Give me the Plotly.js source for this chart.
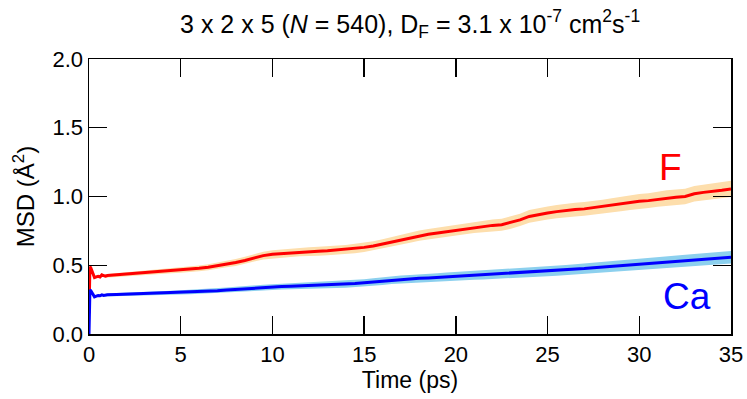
<!DOCTYPE html>
<html>
<head>
<meta charset="utf-8">
<script src="https://cdn.plot.ly/plotly-3.0.1.min.js"></script>
<style>
  html, body { margin: 0; padding: 0; background: #fff; }
  #msd { width: 747px; height: 399px; }
</style>
</head>
<body>
<div id="msd"></div>
<script>
var time = [0, 0.05, 0.1, 0.2, 0.3, 0.4, 0.5, 0.6, 0.7, 0.8, 0.9, 1.0,
  1.5, 2, 2.5, 3, 3.5, 4, 4.5, 5,
  5.5, 6, 6.5, 7, 7.5, 8, 8.5, 9, 9.5, 10,
  10.5, 11, 11.5, 12, 12.5, 13, 13.5, 14, 14.5, 15,
  15.5, 16, 16.5, 17, 17.5, 18, 18.5, 19, 19.5, 20,
  20.5, 21, 21.5, 22, 22.5, 23, 23.5, 24, 24.5, 25,
  25.5, 26, 26.5, 27, 27.5, 28, 28.5, 29, 29.5, 30,
  30.5, 31, 31.5, 32, 32.5, 33, 33.5, 34, 34.5, 35];

var msdF = [0.15, 0.49, 0.48, 0.44, 0.41, 0.415, 0.42, 0.415, 0.43, 0.425, 0.42, 0.425,
  0.43, 0.435, 0.44, 0.445, 0.448, 0.455, 0.46, 0.465,
  0.47, 0.478, 0.485, 0.495, 0.51, 0.52, 0.535, 0.555, 0.57, 0.58,
  0.585, 0.59, 0.597, 0.6, 0.602, 0.605, 0.61, 0.615, 0.622, 0.63,
  0.64, 0.655, 0.67, 0.685, 0.7, 0.715, 0.725, 0.735, 0.745, 0.755,
  0.765, 0.775, 0.785, 0.79, 0.795, 0.81, 0.83, 0.855, 0.87, 0.88,
  0.89, 0.9, 0.905, 0.91, 0.92, 0.925, 0.935, 0.945, 0.955, 0.965,
  0.97, 0.98, 0.99, 0.995, 1.0, 1.02, 1.03, 1.035, 1.045, 1.055];

var msdCa = [0.0, 0.32, 0.315, 0.29, 0.27, 0.275, 0.28, 0.278, 0.285, 0.28, 0.282, 0.285,
  0.288, 0.29, 0.292, 0.295, 0.297, 0.298, 0.3, 0.303,
  0.305, 0.31, 0.312, 0.315, 0.32, 0.325, 0.33, 0.333, 0.337, 0.34,
  0.345, 0.348, 0.35, 0.352, 0.355, 0.357, 0.36, 0.363, 0.367, 0.372,
  0.378, 0.385, 0.392, 0.397, 0.4, 0.405, 0.408, 0.412, 0.416, 0.42,
  0.424, 0.427, 0.43, 0.433, 0.437, 0.442, 0.445, 0.447, 0.452, 0.456,
  0.46, 0.464, 0.47, 0.476, 0.482, 0.487, 0.49, 0.495, 0.5, 0.505,
  0.51, 0.517, 0.523, 0.528, 0.533, 0.538, 0.543, 0.548, 0.553, 0.558];

var errF = [0.008, 0.01, 0.01, 0.01, 0.01, 0.01, 0.01, 0.01, 0.01, 0.01, 0.011, 0.011,
  0.012, 0.013, 0.014, 0.015, 0.016, 0.017, 0.018, 0.019,
  0.02, 0.021, 0.022, 0.023, 0.024, 0.025, 0.026, 0.027, 0.028, 0.029,
  0.03, 0.03, 0.031, 0.031, 0.032, 0.032, 0.033, 0.033, 0.034, 0.034,
  0.035, 0.035, 0.036, 0.036, 0.037, 0.037, 0.038, 0.038, 0.039, 0.039,
  0.04, 0.041, 0.042, 0.043, 0.044, 0.045, 0.045, 0.046, 0.047, 0.048,
  0.048, 0.049, 0.05, 0.05, 0.051, 0.052, 0.052, 0.053, 0.053, 0.054,
  0.054, 0.055, 0.055, 0.056, 0.056, 0.057, 0.057, 0.058, 0.058, 0.059];

var errCa = [0.006, 0.008, 0.008, 0.008, 0.008, 0.008, 0.008, 0.008, 0.008, 0.008, 0.009, 0.009,
  0.01, 0.01, 0.011, 0.012, 0.012, 0.013, 0.014, 0.015,
  0.016, 0.016, 0.017, 0.018, 0.018, 0.019, 0.02, 0.02, 0.021, 0.022,
  0.022, 0.023, 0.023, 0.024, 0.024, 0.025, 0.025, 0.026, 0.026, 0.027,
  0.027, 0.028, 0.028, 0.029, 0.029, 0.03, 0.03, 0.03, 0.031, 0.031,
  0.032, 0.032, 0.033, 0.033, 0.034, 0.034, 0.035, 0.035, 0.036, 0.036,
  0.037, 0.037, 0.038, 0.038, 0.039, 0.039, 0.04, 0.04, 0.041, 0.041,
  0.042, 0.042, 0.042, 0.043, 0.043, 0.044, 0.044, 0.044, 0.045, 0.045];

var xTicks = [0, 5, 10, 15, 20, 25, 30, 35];
var yTicks = [0, 0.5, 1.0, 1.5, 2.0];
var yTickText = ['0.0', '0.5', '1.0', '1.5', '2.0'];

// shaded band = upper edge, then lower edge walked backwards
function band(vals, errs, color) {
  var xs = [], ys = [];
  for (var i = 0; i < time.length; i++) { xs.push(time[i]); ys.push(vals[i] + errs[i]); }
  for (var j = time.length - 1; j >= 0; j--) { xs.push(time[j]); ys.push(vals[j] - errs[j]); }
  return {
    x: xs, y: ys, mode: 'lines', fill: 'toself',
    fillcolor: color, line: {width: 0}, hoverinfo: 'skip', showlegend: false
  };
}

var font = 'Liberation Sans, Arial, sans-serif';

var data = [
  band(msdF, errF, 'rgb(253,222,172)'),
  band(msdCa, errCa, 'rgb(140,208,238)'),
  {x: time, y: msdF, mode: 'lines', name: 'F', line: {color: 'rgb(255,0,0)', width: 3}},
  {x: time, y: msdCa, mode: 'lines', name: 'Ca', line: {color: 'rgb(0,0,255)', width: 3}}
];

var layout = {
  width: 747, height: 399,
  margin: {l: 89, r: 16, t: 59, b: 65},
  paper_bgcolor: '#fff', plot_bgcolor: '#fff',
  showlegend: false,
  font: {family: font, color: '#000', size: 22},
  title: {
    text: '3 x 2 x 5 (<i>N</i> = 540), D<sub>F</sub> = 3.1 x 10<sup>-7</sup> cm<sup>2</sup>s<sup>-1</sup>',
    font: {size: 25, family: font, color: '#000'},
    x: 0.549, xanchor: 'center', y: 0.94, yanchor: 'middle'
  },
  xaxis: {
    range: [0, 35], tickvals: xTicks, ticks: 'inside', ticklen: 18, tickwidth: 1.3,
    tickcolor: '#000', showline: true, linecolor: '#000', linewidth: 1.5,
    mirror: 'ticks', showgrid: false, zeroline: false,
    tickfont: {size: 22},
    title: {text: 'Time (ps)', font: {size: 23}, standoff: 1}
  },
  yaxis: {
    range: [0, 2], tickvals: yTicks, ticktext: yTickText, ticks: 'inside', ticklen: 18, tickwidth: 1.3,
    tickcolor: '#000', showline: true, linecolor: '#000', linewidth: 1.5,
    mirror: 'ticks', showgrid: false, zeroline: false,
    tickfont: {size: 22},
    title: {text: 'MSD (Å<sup>2</sup>)', font: {size: 24}, standoff: 11}
  },
  annotations: [
    {x: 31.7, y: 1.21, xref: 'x', yref: 'y', text: 'F', showarrow: false,
      font: {size: 37, color: 'rgb(255,0,0)', family: font}},
    {x: 32.6, y: 0.27, xref: 'x', yref: 'y', text: 'Ca', showarrow: false,
      font: {size: 37, color: 'rgb(0,0,255)', family: font}}
  ]
};

Plotly.newPlot('msd', data, layout, {staticPlot: true, displayModeBar: false});
</script>
</body>
</html>
